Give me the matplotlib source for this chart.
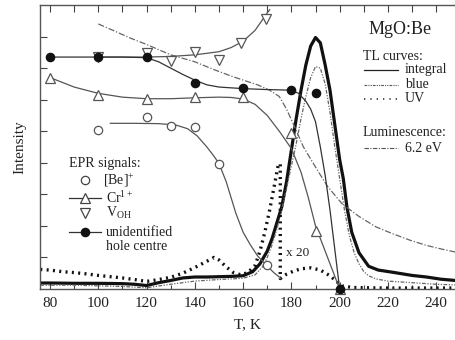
import matplotlib
matplotlib.use("Agg")
import matplotlib.pyplot as plt
from matplotlib.lines import Line2D

plt.rcParams['font.family'] = ['Liberation Serif', 'DejaVu Serif']
plt.rcParams['mathtext.fontset'] = 'custom'
plt.rcParams['mathtext.rm'] = 'Liberation Serif'
plt.rcParams['mathtext.it'] = 'Liberation Serif:italic'

# ---- TL curves ----
T_int = [76, 80, 90, 100, 110, 115, 120, 125, 130, 135, 140, 145, 150, 155, 160, 164, 167,
         170, 172, 174, 176, 178, 180, 182, 184, 186, 188, 190, 192, 194, 196, 198, 200,
         201.5, 203, 205, 208, 212, 216, 222, 230, 236, 242, 248]
I_int = [0.19, 0.19, 0.18, 0.18, 0.17, 0.15, 0.11, 0.2, 0.27, 0.35, 0.38, 0.38, 0.39, 0.4, 0.42, 0.55, 0.8,
         1.2, 1.6, 2.1, 2.6, 3.4, 4.4, 5.4, 6.3, 7.1, 7.7, 7.97, 7.8, 7.1, 6.3, 5.2, 4.1,
         3.5, 2.6, 1.8, 1.15, 0.72, 0.6, 0.53, 0.43, 0.38, 0.31, 0.27]

T_blue = [76, 90, 100, 110, 120, 130, 140, 150, 160, 165, 168, 170, 172, 174, 176, 178, 180,
          182, 184, 186, 188, 190, 192, 194, 196, 198, 200, 202, 204, 206, 208, 210, 212, 215,
          220, 230, 240, 248]
I_blue = [0.12, 0.12, 0.1, 0.08, 0.04, 0.15, 0.25, 0.3, 0.34, 0.45, 0.7, 1.0, 1.4, 1.9, 2.5, 3.2, 3.9,
          4.6, 5.4, 6.1, 6.7, 7.05, 7.0, 6.5, 5.6, 4.5, 3.5, 2.5, 1.7, 1.15, 0.8, 0.55, 0.42, 0.32,
          0.25, 0.2, 0.15, 0.13]

# UV below the x20 mark, then the x20-scaled tail
T_uv = [76, 80, 85, 90, 95, 100, 105, 110, 115, 120, 125, 130, 135, 140, 145, 148, 150, 153,
        156, 159, 162, 165, 167, 169, 171, 173, 174.6, 175.4]
I_uv = [0.62, 0.6, 0.55, 0.52, 0.48, 0.43, 0.39, 0.35, 0.3, 0.24, 0.3, 0.37, 0.5, 0.68, 0.88, 1.0, 0.92, 0.7,
        0.52, 0.45, 0.52, 0.75, 1.2, 1.8, 2.5, 3.3, 3.95, 3.95]
T_uv20 = [175.4, 175.4, 178, 181, 184, 188, 192, 196, 199, 201, 205, 210, 220, 230, 240, 248]
I_uv20 = [3.95, 0.33, 0.47, 0.57, 0.64, 0.67, 0.6, 0.42, 0.22, 0.1, 0.05, 0.04, 0.03, 0.03, 0.03, 0.03]

# ---- luminescence 6.2 eV ----
T_lum = [100, 106, 113, 120, 130, 140, 148, 155, 160, 166, 171, 175, 178, 181, 185, 190.5,
         195, 201, 208, 215, 222, 229, 236, 242, 248]
I_lum = [8.4, 8.2, 7.96, 7.75, 7.42, 7.2, 6.95, 6.75, 6.62, 6.47, 6.3, 6.1, 5.7, 5.2, 4.5, 3.8,
         3.25, 2.7, 2.3, 1.97, 1.75, 1.55, 1.38, 1.27, 1.17]

# ---- EPR signals: measured points and fitted lines ----
T_be = [100, 120, 130, 140, 150, 170]
I_be = [5.04, 5.46, 5.17, 5.14, 3.96, 0.76]
T_be_fit = [105, 115, 125, 132, 137, 141, 145, 148, 150, 153, 157, 160, 163, 166, 170, 173, 175]
I_be_fit = [5.25, 5.25, 5.24, 5.2, 5.08, 4.85, 4.5, 4.2, 3.98, 3.4, 2.4, 1.8, 1.4, 1.05, 0.72, 0.5, 0.38]

T_cr = [80, 100, 120, 140, 160, 180, 190, 200]
I_cr = [6.7, 6.15, 6.02, 6.08, 6.1, 4.93, 1.84, 0.0]
T_cr_fit = [80, 90, 100, 110, 120, 130, 140, 150, 155, 160, 165, 170, 175, 180, 184, 187, 190, 195, 200]
I_cr_fit = [6.7, 6.4, 6.2, 6.08, 6.03, 6.03, 6.06, 6.08, 6.07, 6.02, 5.85, 5.5, 5.0, 4.45, 3.7, 2.9, 2.0, 1.0, 0.0]

T_voh = [100, 120, 130, 140, 150, 159, 169.5]
I_voh = [7.35, 7.48, 7.22, 7.5, 7.26, 7.8, 8.56]
T_voh_fit = [100, 110, 120, 130, 140, 150, 155, 160, 165, 170, 171]
I_voh_fit = [7.35, 7.35, 7.35, 7.37, 7.42, 7.52, 7.65, 7.85, 8.2, 8.75, 8.85]

T_hc = [80, 100, 120, 140, 160, 180, 190, 200]
I_hc = [7.35, 7.35, 7.35, 6.53, 6.37, 6.3, 6.2, 0.0]
T_hc_fit = [80, 100, 110, 120, 125, 130, 135, 140, 145, 150, 160, 170, 180, 183, 186, 188, 190,
            192, 194, 196, 198, 200]
I_hc_fit = [7.35, 7.35, 7.35, 7.33, 7.2, 7.0, 6.8, 6.62, 6.47, 6.4, 6.35, 6.32, 6.3, 6.2, 5.95, 5.7,
            5.3, 4.5, 3.6, 2.5, 1.25, 0.0]

x_ticks = [80, 100, 120, 140, 160, 180, 200, 220, 240]

W, H = 456, 340
fig = plt.figure(figsize=(W / 100, H / 100), dpi=100)
L, B, R, Tp = 40, 51, 456, 335
ax = fig.add_axes([L / W, B / H, (R - L) / W, (Tp - B) / H])

ink = '#222222'
grey = '#555555'

ax.plot(T_int, I_int, color='#111111', lw=2.3, solid_joinstyle='round')
ax.plot(T_blue, I_blue, color='#666666', lw=0.9, dashes=(3, 1.2, 1, 1.2, 1, 1.2))
ax.plot(T_uv, I_uv, color='#111111', lw=2.4, linestyle=(0, (0.6, 1.3)), dash_capstyle='butt')
ax.plot(T_uv20, I_uv20, color='#111111', lw=2.4, linestyle=(0, (0.6, 1.3)), dash_capstyle='butt')
ax.plot(T_lum, I_lum, color='#666666', lw=0.9, dashes=(5, 1.5, 1, 1.5))

ax.plot(T_be_fit, I_be_fit, color=grey, lw=0.9)
ax.plot(T_cr_fit, I_cr_fit, color=grey, lw=0.9)
ax.plot(T_voh_fit, I_voh_fit, color=grey, lw=0.9)
ax.plot(T_hc_fit, I_hc_fit, color='#333333', lw=0.9)

mk = dict(linestyle='none', markeredgewidth=0.9, clip_on=False, zorder=5)
ax.plot(T_be, I_be, marker='o', ms=6, mfc='white', mec=grey, **mk)
ax.plot(T_cr, I_cr, marker='^', ms=6.5, mfc='white', mec=grey, **mk)
ax.plot(T_voh, I_voh, marker='v', ms=6.5, mfc='white', mec=grey, **mk)
ax.plot(T_hc, I_hc, marker='o', ms=6, mfc='#111111', mec='#111111', **mk)

ax.text(177.8, 1.15, 'x 20', fontsize=9.5, color=ink, va='center', ha='left')

ax.set_xlim(75.86, 248.2)
ax.set_ylim(0, 9)
ax.set_xticks(x_ticks)
ax.set_xticks(list(range(90, 250, 20)), minor=True)
ax.set_yticks(range(1, 9))
ax.set_yticklabels([])
ax.tick_params(axis='x', which='major', direction='in', length=5, width=0.8, colors='#444444',
               labelsize=11, labelcolor=ink, pad=6)
ax.tick_params(axis='x', which='minor', direction='in', length=3, width=0.8, colors='#444444')
ax.tick_params(axis='y', direction='in', length=5, width=0.8, colors='#444444')
for s in ['left', 'bottom', 'top']:
    ax.spines[s].set_color('#555555')
    ax.spines[s].set_linewidth(1.0)
ax.spines['right'].set_visible(False)

# top axis ticks every 10 K
top = ax.secondary_xaxis('top')
top.set_xticks(list(range(80, 250, 10)))
top.set_xticklabels([])
top.tick_params(direction='in', length=5, width=0.8, colors='#444444')
top.spines['top'].set_visible(False)

ax.set_xlabel('T, K', fontsize=11, color=ink, labelpad=6)
ax.set_ylabel('Intensity', fontsize=11, color=ink, labelpad=6)


def pt(px, py):
    """Pixel position in the figure -> axes fraction."""
    return (px - L) / (R - L), (H - py - B) / (Tp - B)


tr = ax.transAxes
fs = 10
ax.text(*pt(369, 30), 'MgO:Be', transform=tr, fontsize=13, color=ink, va='center', ha='left')
ax.text(*pt(363, 57), 'TL curves:', transform=tr, fontsize=fs, color=ink, va='center', ha='left')
legR = [('integral', 70, dict(color='#222222', lw=0.9)),
        ('blue', 85, dict(color='#555555', lw=0.8, dashes=(2.5, 1, 1, 1, 1, 1))),
        ('UV', 99, dict(color='#333333', lw=1.2, linestyle=(0, (0.8, 3))))]
for lab, py, st in legR:
    x0, y0 = pt(364, py)
    x1, _ = pt(398, py)
    ax.add_line(Line2D([x0, x1], [y0, y0], transform=tr, **st))
    ax.text(*pt(405, py), lab, transform=tr, fontsize=fs, color=ink, va='center', ha='left')
ax.text(*pt(363, 133), 'Luminescence:', transform=tr, fontsize=fs, color=ink, va='center', ha='left')
x0, y0 = pt(364, 148)
x1, _ = pt(398, 148)
ax.add_line(Line2D([x0, x1], [y0, y0], transform=tr, color='#555555', lw=0.8, dashes=(4, 1.3, 1, 1.3)))
ax.text(*pt(405, 148), '6.2 eV', transform=tr, fontsize=fs, color=ink, va='center', ha='left')

ax.text(*pt(69, 164), 'EPR signals:', transform=tr, fontsize=fs, color=ink, va='center', ha='left')
legL = [(r'[Be]$^{+}$', 180, 'o', 'white', False, 103),
        (r'Cr$^{1+}$', 198, '^', 'white', True, 106),
        (r'V$_{\mathrm{OH}}$', 213, 'v', 'white', False, 106),
        ('unidentified', 232, 'o', '#111111', True, 106)]
for lab, py, m, fc, with_line, tx in legL:
    xm, ym = pt(85, py)
    if with_line:
        xa, _ = pt(69, py)
        xb, _ = pt(101, py)
        ax.add_line(Line2D([xa, xb], [ym, ym], transform=tr, color='#333333', lw=0.9))
    ax.add_line(Line2D([xm], [ym], transform=tr, marker=m, ms=6 if m == 'o' else 6.5,
                       mfc=fc, mec='#444444' if fc == 'white' else '#111111', mew=0.9, linestyle='none'))
    ax.text(*pt(tx, py), lab, transform=tr, fontsize=fs, color=ink, va='center', ha='left')
ax.text(*pt(106, 247), 'hole centre', transform=tr, fontsize=fs, color=ink, va='center', ha='left')

fig.savefig('out.png', dpi=100)
